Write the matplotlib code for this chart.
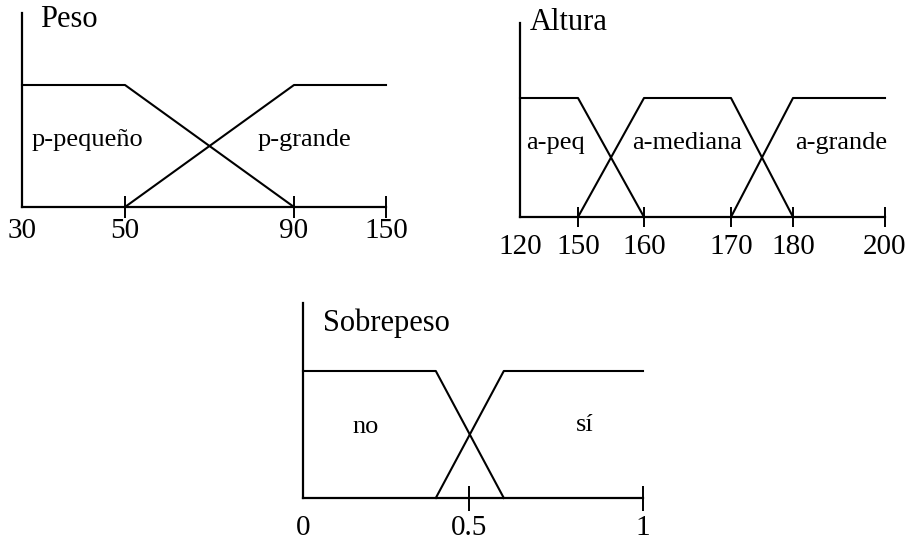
import numpy as np
import matplotlib
matplotlib.use("Agg")
import matplotlib.pyplot as plt

plt.rcParams['font.family'] = ['Liberation Serif', 'DejaVu Serif']

# Peso
peso_ticks = [30, 50, 90, 150]
peso_sets = {
    'p-pequeño': ([30, 50, 90], [1, 1, 0]),
    'p-grande': ([50, 90, 150], [0, 1, 1]),
}

# Altura
altura_ticks = [120, 150, 160, 170, 180, 200]
altura_sets = {
    'a-peq': ([120, 150, 160], [1, 1, 0]),
    'a-mediana': ([150, 160, 170, 180], [0, 1, 1, 0]),
    'a-grande': ([170, 180, 200], [0, 1, 1]),
}

# Sobrepeso
sobre_ticks = [0, 0.5, 1]
sobre_tick_labels = ['0', '0.5', '1']
sobre_sets = {
    'no': ([0, 0.4, 0.6], [1, 1, 0]),
    'sí': ([0.4, 0.6, 1], [0, 1, 1]),
}

W, H = 909, 540
fig = plt.figure(figsize=(W / 100, H / 100), dpi=100)


def make_axes(x0, x1, ytop, ybot):
    return fig.add_axes([x0 / W, 1 - ybot / H, (x1 - x0) / W, (ybot - ytop) / H])


def draw_panel(ax, ticks, tick_pos, sets, ytop, tick_len, pad, labels=None):
    # the drawing spaces the ticks unevenly, so use a piecewise linear scale
    fwd = lambda v: np.interp(v, ticks, tick_pos)
    inv = lambda p: np.interp(p, tick_pos, ticks)
    ax.set_xscale('function', functions=(fwd, inv))
    ax.set_xlim(ticks[0], ticks[-1])
    ax.set_ylim(0, ytop)
    for xs, ys in sets.values():
        ax.plot(xs, ys, color='black', lw=1.5, clip_on=False)
    for s in ['top', 'right']:
        ax.spines[s].set_visible(False)
    for s in ['left', 'bottom']:
        ax.spines[s].set_linewidth(1.6)
    ax.set_yticks([])
    ax.set_xticks(ticks)
    ax.set_xticklabels(labels if labels else [str(t) for t in ticks])
    ax.xaxis.set_minor_locator(matplotlib.ticker.NullLocator())
    ax.tick_params(axis='x', direction='inout', length=tick_len, width=1.4,
                   labelsize=21, pad=pad)
    ax.xaxis.get_major_ticks()[0].tick1line.set_visible(False)
    ax.patch.set_visible(False)


ax1 = make_axes(22, 386, 13, 207)
draw_panel(ax1, peso_ticks, [22, 125, 294, 386], peso_sets, 194 / 122, 16, 0)
ax1.text(0.049, 0.964, 'Peso', transform=ax1.transAxes, fontsize=22, va='center', ha='left')
ax1.text(0.027, 0.345, 'p-pequeño', transform=ax1.transAxes, fontsize=19, va='center')
ax1.text(0.648, 0.345, 'p-grande', transform=ax1.transAxes, fontsize=19, va='center')

ax2 = make_axes(520, 885, 23, 217)
draw_panel(ax2, altura_ticks, [520, 578, 644, 731, 793, 885], altura_sets, 194 / 119, 14, 5)
ax2.text(0.027, 1.005, 'Altura', transform=ax2.transAxes, fontsize=22, va='center', ha='left')
ax2.text(0.016, 0.381, 'a-peq', transform=ax2.transAxes, fontsize=19, va='center')
ax2.text(0.307, 0.381, 'a-mediana', transform=ax2.transAxes, fontsize=19, va='center')
ax2.text(0.753, 0.381, 'a-grande', transform=ax2.transAxes, fontsize=19, va='center')

ax3 = make_axes(303, 643, 303, 498)
draw_panel(ax3, sobre_ticks, [303, 469, 643], sobre_sets, 195 / 127, 18, 3, sobre_tick_labels)
ax3.text(0.059, 0.897, 'Sobrepeso', transform=ax3.transAxes, fontsize=22, va='center', ha='left')
ax3.text(0.185, 0.364, 'no', transform=ax3.transAxes, fontsize=19, va='center', ha='center')
ax3.text(0.829, 0.374, 'sí', transform=ax3.transAxes, fontsize=19, va='center', ha='center')

fig.savefig('out.png', dpi=100)
